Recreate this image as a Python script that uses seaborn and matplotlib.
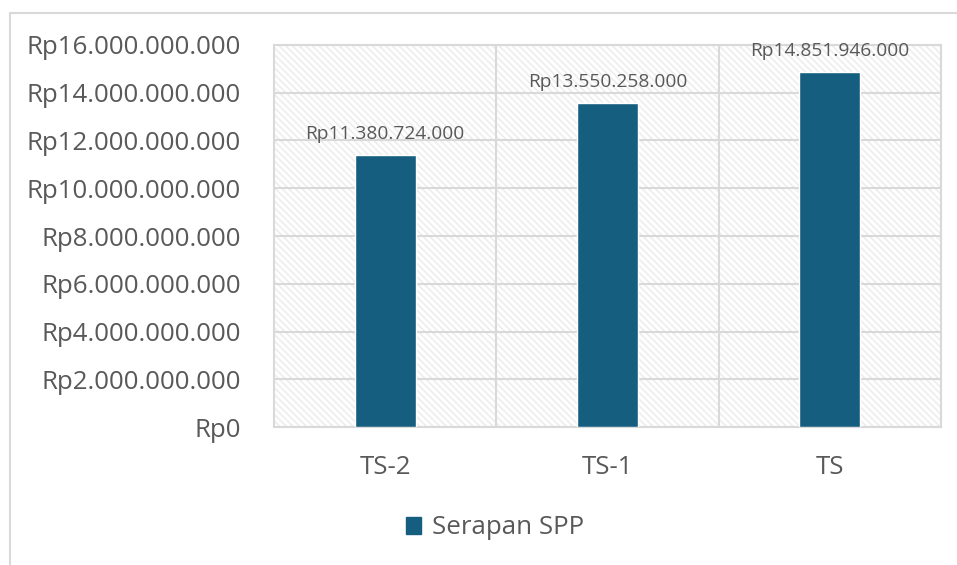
import matplotlib
matplotlib.use('Agg')
import matplotlib.pyplot as plt
import matplotlib.patches as mpatches
import seaborn as sns
import pandas as pd

# data
categories = ['TS-2', 'TS-1', 'TS']
values = [11380724000, 13550258000, 14851946000]
series_name = 'Serapan SPP'
y_ticks = list(range(0, 16000000001, 2000000000))

BAR_COLOR = '#165E80'
TEXT_COLOR = '#595959'
GRID_COLOR = '#D9D9D9'


def rupiah(v):
    return 'Rp' + f'{int(v):,}'.replace(',', '.')


sns.set_theme(style='white')
plt.rcParams['font.family'] = ['Open Sans', 'DejaVu Sans']
plt.rcParams['hatch.linewidth'] = 1.2

df = pd.DataFrame({'periode': categories, 'nilai': values})

fig = plt.figure(figsize=(9.57, 5.65), dpi=100)
ax = fig.add_axes([0.2863, 0.2442, 0.697, 0.6762])

# frame around the whole chart
fig.patches.append(mpatches.Rectangle((10 / 957, -0.05), 1.2, 1 - 13 / 565 + 0.05,
                                      transform=fig.transFigure, fill=False,
                                      edgecolor=GRID_COLOR, lw=1.5, zorder=0))

# hatched plot area (light texture)
ax.set_facecolor('white')
ax.add_patch(mpatches.Rectangle((0, 0), 1, 1, transform=ax.transAxes,
                                facecolor='white', edgecolor='#EDEDED',
                                hatch='\\\\\\\\\\', lw=0, zorder=0))

sns.barplot(data=df, x='periode', y='nilai', color=BAR_COLOR, width=0.275,
            saturation=1, ax=ax, zorder=3)

ax.set_ylim(0, 16000000000)
ax.set_xlim(-0.5, 2.5)
ax.set_yticks(y_ticks)
ax.set_yticklabels([rupiah(t) for t in y_ticks])
ax.set_xlabel('')
ax.set_ylabel('')

# gridlines
for t in y_ticks:
    ax.axhline(t, color=GRID_COLOR, lw=1.5, zorder=1)
for xb in [0.5, 1.5]:
    ax.axvline(xb, color=GRID_COLOR, lw=1.5, zorder=1)

for side in ['top', 'right', 'left', 'bottom']:
    ax.spines[side].set_visible(True)
    ax.spines[side].set_color(GRID_COLOR)
    ax.spines[side].set_linewidth(1.5)

ax.tick_params(axis='y', length=0, pad=24, labelsize=18.6, labelcolor=TEXT_COLOR)
ax.tick_params(axis='x', length=0, pad=20, labelsize=18.6, labelcolor=TEXT_COLOR)

for i, v in enumerate(values):
    ax.text(i, v + 520000000, rupiah(v), ha='center', va='bottom',
            fontsize=13.8, color=TEXT_COLOR, zorder=4)

handle = mpatches.Patch(color=BAR_COLOR, label=series_name)
fig.legend(handles=[handle], loc='center', bbox_to_anchor=(0.517, 1 - 528 / 565),
           frameon=False, fontsize=18.6, labelcolor=TEXT_COLOR,
           handlelength=0.6, handleheight=0.6, handletextpad=0.4)

fig.savefig('out.png', dpi=100)
